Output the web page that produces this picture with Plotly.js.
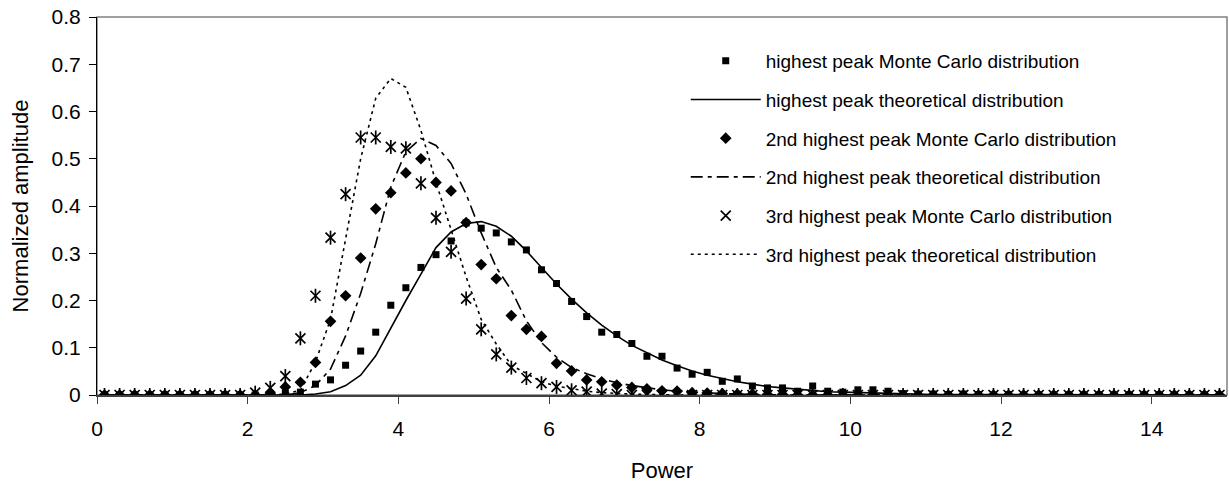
<!DOCTYPE html>
<html>
<head>
<meta charset="utf-8">
<script src="https://cdn.plot.ly/plotly-3.0.1.min.js"></script>
<style>
  html, body { margin: 0; padding: 0; background: #ffffff; }
  #chart { width: 1229px; height: 483px; }
</style>
</head>
<body>
<div id="chart"></div>
<script>
// x positions (Power)
const power = [0.1,0.3,0.5,0.7,0.9,1.1,1.3,1.5,1.7,1.9,
  2.1,2.3,2.5,2.7,2.9,3.1,3.3,3.5,3.7,3.9,
  4.1,4.3,4.5,4.7,4.9,5.1,5.3,5.5,5.7,5.9,
  6.1,6.3,6.5,6.7,6.9,7.1,7.3,7.5,7.7,7.9,
  8.1,8.3,8.5,8.7,8.9,9.1,9.3,9.5,9.7,9.9,
  10.1,10.3,10.5,10.7,10.9,11.1,11.3,11.5,11.7,11.9,
  12.1,12.3,12.5,12.7,12.9,13.1,13.3,13.5,13.7,13.9,
  14.1,14.3,14.5,14.7,14.9];

const highestMC = [0,0,0,0,0,0,0,0,0,0,
  0,0.002,0.004,0.006,0.023,0.032,0.063,0.093,0.133,0.19,
  0.227,0.27,0.297,0.326,0.364,0.353,0.343,0.324,0.307,0.265,
  0.236,0.198,0.166,0.133,0.128,0.109,0.082,0.082,0.057,0.044,
  0.048,0.029,0.034,0.019,0.015,0.015,0.008,0.019,0.008,0.006,
  0.011,0.011,0.008,0.003,0.002,0.002,0.001,0.002,0.001,0,
  0.001,0,0,0,0,0,0,0,0,0,
  0,0,0,0,0];

const highestTheo = [0,0,0,0,0,0,0,0,0,0,
  0,0,0,0,0.002,0.007,0.02,0.042,0.083,0.143,
  0.2,0.256,0.312,0.345,0.363,0.367,0.357,0.336,0.305,0.27,
  0.235,0.203,0.174,0.148,0.125,0.105,0.089,0.074,0.062,0.051,
  0.042,0.035,0.028,0.023,0.018,0.015,0.012,0.009,0.007,0.006,
  0.005,0.004,0.003,0.002,0.002,0.001,0.001,0.001,0,0,
  0,0,0,0,0,0,0,0,0,0,
  0,0,0,0,0];

const secondMC = [0,0,0,0,0,0,0,0,0,0,
  0,0.002,0.017,0.027,0.069,0.156,0.21,0.29,0.394,0.428,
  0.47,0.5,0.45,0.432,0.365,0.276,0.246,0.168,0.139,0.124,
  0.067,0.051,0.032,0.028,0.021,0.016,0.013,0.009,0.008,0.005,
  0.004,0.003,0.002,0.002,0.001,0.001,0,0,0,0,
  0,0,0,0,0,0,0,0,0,0,
  0,0,0,0,0,0,0,0,0,0,
  0,0,0,0,0];

const secondTheo = [0,0,0,0,0,0,0,0,0,0,
  0,0,0,0.005,0.02,0.055,0.125,0.215,0.32,0.44,
  0.515,0.543,0.528,0.49,0.425,0.343,0.27,0.222,0.157,0.111,
  0.08,0.058,0.045,0.034,0.026,0.02,0.015,0.011,0.008,0.006,
  0.004,0.003,0.002,0.001,0.001,0,0,0,0,0,
  0,0,0,0,0,0,0,0,0,0,
  0,0,0,0,0,0,0,0,0,0,
  0,0,0,0,0];

const thirdMC = [0,0,0,0,0,0,0,0,0,0,
  0.005,0.015,0.04,0.12,0.21,0.333,0.425,0.545,0.545,0.525,
  0.522,0.448,0.375,0.303,0.204,0.139,0.086,0.058,0.036,0.025,
  0.017,0.01,0.007,0.003,0.002,0,0,0,0,0,
  0,0,0,0,0,0,0,0,0,0,
  0,0,0,0,0,0,0,0,0,0,
  0,0,0,0,0,0,0,0,0,0,
  0,0,0,0,0];

const thirdTheo = [0,0,0,0,0,0,0,0,0,0,
  0,0,0.002,0.01,0.07,0.16,0.33,0.5,0.628,0.67,
  0.651,0.56,0.45,0.35,0.25,0.16,0.108,0.063,0.045,0.028,
  0.019,0.013,0.008,0.005,0.003,0.002,0.001,0,0,0,
  0,0,0,0,0,0,0,0,0,0,
  0,0,0,0,0,0,0,0,0,0,
  0,0,0,0,0,0,0,0,0,0,
  0,0,0,0,0];

const seriesNames = [
  "highest peak Monte Carlo distribution",
  "highest peak theoretical distribution",
  "2nd highest peak Monte Carlo distribution",
  "2nd highest peak theoretical distribution",
  "3rd highest peak Monte Carlo distribution",
  "3rd highest peak theoretical distribution"
];

const xTicks = [0,2,4,6,8,10,12,14];
const yTicks = [0,0.1,0.2,0.3,0.4,0.5,0.6,0.7,0.8];
const yTickText = ["0","0.1","0.2","0.3","0.4","0.5","0.6","0.7","0.8"];

const FONT = "Liberation Sans, Arial, sans-serif";

const traces = [
  {x: power, y: highestMC, name: seriesNames[0], type: "scatter", mode: "markers",
   legendgroup: "g1", marker: {symbol: "square", size: 7, color: "#000"}},
  {x: power, y: highestTheo, name: seriesNames[1], type: "scatter", mode: "lines",
   legendgroup: "g2", line: {color: "#000", width: 1.6}},
  {x: power, y: secondMC, name: seriesNames[2], type: "scatter", mode: "markers",
   legendgroup: "g3", marker: {symbol: "diamond", size: 9, color: "#000"}},
  {x: power, y: secondTheo, name: seriesNames[3], type: "scatter", mode: "lines",
   legendgroup: "g4", line: {color: "#000", width: 1.6, dash: "12px,5px,4px,5px"}},
  {x: power, y: thirdMC, name: seriesNames[4], type: "scatter", mode: "markers",
   legendgroup: "g5", marker: {symbol: "x-thin-open", size: 10, color: "#000", line: {width: 1.7, color: "#000"}}},
  {x: power, y: thirdMC, name: seriesNames[4], type: "scatter", mode: "markers", showlegend: false,
   legendgroup: "g5", marker: {symbol: "line-ns-open", size: 10, color: "#000", line: {width: 1.7, color: "#000"}}},
  {x: power, y: thirdTheo, name: seriesNames[5], type: "scatter", mode: "lines",
   legendgroup: "g6", line: {color: "#000", width: 1.6, dash: "3px,4px"}}
];

const layout = {
  width: 1229, height: 483,
  margin: {l: 97, r: 2, t: 17, b: 88, pad: 0},
  paper_bgcolor: "#ffffff", plot_bgcolor: "#ffffff",
  font: {family: FONT, color: "#000", size: 21},
  showlegend: true,
  legend: {
    x: 0.521, y: 0.934, xanchor: "left", yanchor: "top",
    bgcolor: "rgba(0,0,0,0)", borderwidth: 0,
    font: {family: FONT, size: 19, color: "#000"},
    itemwidth: 70, tracegroupgap: 11
  },
  xaxis: {
    range: [0, 15], tickvals: xTicks, ticktext: xTicks.map(String),
    ticks: "outside", ticklen: 7, tickwidth: 1, tickcolor: "#404040",
    showline: true, linecolor: "#404040", linewidth: 1.5,
    showgrid: false, zeroline: false,
    tickfont: {family: FONT, size: 21, color: "#000"},
    ticklabelstandoff: 7,
    title: {text: "Power", font: {family: FONT, size: 22, color: "#000"}, standoff: 27}
  },
  yaxis: {
    range: [0, 0.8], tickvals: yTicks, ticktext: yTickText,
    ticks: "outside", ticklen: 7, tickwidth: 1, tickcolor: "#000",
    showline: true, linecolor: "#000", linewidth: 1,
    showgrid: false, zeroline: false,
    tickfont: {family: FONT, size: 21, color: "#000"},
    ticklabelstandoff: 4,
    title: {text: "Normalized amplitude", font: {family: FONT, size: 22, color: "#000"}, standoff: 16}
  },
  shapes: [{
    type: "rect", xref: "paper", yref: "paper", x0: 0, x1: 1, y0: 0, y1: 1,
    line: {color: "#808080", width: 1.5}, layer: "below"
  }]
};

Plotly.newPlot("chart", traces, layout, {staticPlot: true, displayModeBar: false});
</script>
</body>
</html>
